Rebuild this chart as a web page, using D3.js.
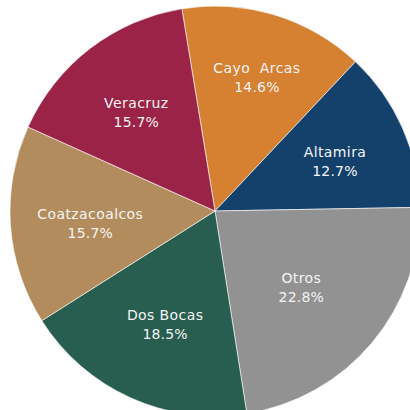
<!DOCTYPE html>
<html>
<head>
<meta charset="utf-8">
<script src="https://cdn.jsdelivr.net/npm/d3@7"></script>
<style>
  html, body { margin: 0; padding: 0; background: #ffffff; overflow: hidden; }
  svg { display: block; }
  text { font-family: "DejaVu Sans", "Noto Sans", sans-serif; }
</style>
</head>
<body>
<svg id="chart" width="410" height="410"></svg>
<script>
// Share of each port (percent)
const categories = ["Cayo  Arcas", "Altamira", "Otros", "Dos Bocas", "Coatzacoalcos", "Veracruz"];
const shares = [14.6, 12.7, 22.8, 18.5, 15.7, 15.7];
const colors = ["#D68032", "#14416B", "#929292", "#285E4F", "#B38C5D", "#9C2348"];

// Label distance from the centre, as a fraction of the radius, per slice
const labelRadius = [0.70, 0.64, 0.55, 0.59, 0.61, 0.63];

const width = 410, height = 410;
const cx = 215, cy = 211, radius = 205;

const svg = d3.select("#chart");
const g = svg.append("g").attr("transform", `translate(${cx},${cy})`);

const data = categories.map((c, i) => ({ name: c, value: shares[i], color: colors[i], lr: labelRadius[i] }));

const pie = d3.pie()
  .value(d => d.value)
  .sort(null)
  .startAngle(-9.3 * Math.PI / 180)
  .endAngle((360 - 9.3) * Math.PI / 180);

const arc = d3.arc().innerRadius(0).outerRadius(radius);
const arcs = pie(data);

g.selectAll("path.slice")
  .data(arcs)
  .join("path")
  .attr("class", "slice")
  .attr("d", arc)
  .attr("fill", d => d.data.color)
  .attr("stroke", "#ffffff")
  .attr("stroke-width", 0.6);

const fmt = d3.format(".1f");

const labels = g.selectAll("g.label")
  .data(arcs)
  .join("g")
  .attr("class", "label")
  .attr("transform", d => {
    const r = radius * d.data.lr;
    const a = (d.startAngle + d.endAngle) / 2;
    return `translate(${r * Math.sin(a)},${-r * Math.cos(a)})`;
  });

labels.append("text")
  .attr("text-anchor", "middle")
  .attr("y", -1)
  .attr("fill", "#f4f4f4")
  .attr("font-size", 14)
  .attr("letter-spacing", 0.4)
  .style("white-space", "pre")
  .text(d => d.data.name);

labels.append("text")
  .attr("text-anchor", "middle")
  .attr("y", 18)
  .attr("fill", "#f4f4f4")
  .attr("font-size", 14)
  .attr("letter-spacing", 0.2)
  .text(d => fmt(d.data.value) + "%");
</script>
</body>
</html>
